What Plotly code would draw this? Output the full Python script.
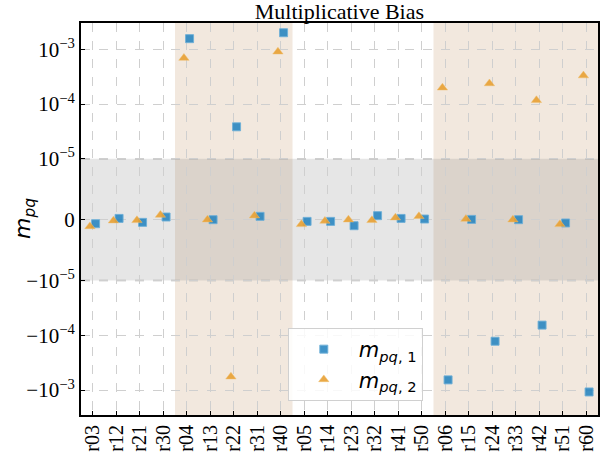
import numpy as np
import plotly.graph_objects as go

labels = ["r03", "r12", "r21", "r30", "r04", "r13", "r22", "r31", "r40", "r05", "r14",
          "r23", "r32", "r41", "r50", "r06", "r15", "r24", "r33", "r42", "r51", "r60"]
m_pq1 = [-6.6e-7, 2.1e-7, -4.4e-7, 4.4e-7, 1.56e-3, 0.0, 3.84e-5, 5.5e-7, 2.0e-3,
         -2.8e-7, -2.8e-7, -9.9e-7, 6.6e-7, 2.1e-7, 1.1e-7, -6.5e-4, 0.5e-7, -1.28e-4,
         0.0, -6.5e-5, -5.4e-7, -1.08e-3]
m_pq2 = [-1.1e-6, -1.6e-7, -1.1e-7, 7.7e-7, 6.9e-4, 0.0, -5.7e-4, 6.6e-7, 9.0e-4,
         -7.7e-7, -2.2e-7, 0.0, -1.0e-7, 3.3e-7, 5.5e-7, 1.98e-4, 1.0e-7, 2.37e-4,
         0.0, 1.17e-4, -7.7e-7, 3.3e-4]
ytick_values = [1e-3, 1e-4, 1e-5, 0.0, -1e-5, -1e-4, -1e-3]
ytick_text = ["10<sup>−3</sup>", "10<sup>−4</sup>", "10<sup>−5</sup>", "0",
              "−10<sup>−5</sup>", "−10<sup>−4</sup>", "−10<sup>−3</sup>"]
shaded_groups = [(3.5, 8.5), (14.5, 21.5)]

LINTHRESH = 1e-5
LINSCALE = 1.0 / (1.0 - 1.0 / 10.0)


def symlog(v):
    v = np.asarray(v, dtype=float)
    a = np.abs(v)
    big = np.sign(v) * (LINSCALE + np.log10(np.maximum(a, LINTHRESH) / LINTHRESH))
    return np.where(a <= LINTHRESH, v / LINTHRESH * LINSCALE, big)


idx = np.arange(len(labels))
serif = "Liberation Serif"

fig = go.Figure()
fig.add_trace(go.Scatter(
    x=idx + 0.12, y=symlog(m_pq1), mode="markers",
    name="<i>m</i><sub><i>pq</i>, 1</sub>",
    marker=dict(symbol="square", size=8, color="rgba(31,128,190,0.85)",
                line=dict(width=1, color="rgba(110,175,215,0.9)"))))
fig.add_trace(go.Scatter(
    x=idx - 0.12, y=symlog(m_pq2), mode="markers",
    name="<i>m</i><sub><i>pq</i>, 2</sub>",
    marker=dict(symbol="triangle-up", size=9, color="rgba(232,160,50,0.9)",
                line=dict(width=0.5, color="rgba(240,190,110,0.9)"))))

shapes = []
for x0, x1 in shaded_groups:
    shapes.append(dict(type="rect", xref="x", yref="paper", x0=x0, x1=x1, y0=0, y1=1,
                       fillcolor="#f2e8de", line=dict(width=0), layer="below"))
lo, hi = symlog([-LINTHRESH, LINTHRESH])
shapes.append(dict(type="rect", xref="paper", yref="y", x0=0, x1=1, y0=lo, y1=hi,
                   fillcolor="rgba(128,128,128,0.2)", line=dict(width=0), layer="below"))
for yv in (lo, hi):
    shapes.append(dict(type="line", xref="paper", yref="y", x0=0, x1=1, y0=yv, y1=yv,
                       line=dict(color="#b0b0b0", width=1.5, dash="dash"), layer="below"))

fig.update_layout(
    width=612, height=456,
    margin=dict(l=81, r=14, t=23, b=41, autoexpand=False),
    plot_bgcolor="white", paper_bgcolor="white",
    shapes=shapes,
    title=dict(text="Multiplicative Bias", x=0.5546, xanchor="center",
               y=1, yref="paper", yanchor="bottom", pad=dict(b=4),
               font=dict(family=serif, size=22, color="black")),
    legend=dict(x=0.40, y=0.222, xanchor="left", yanchor="top",
                bgcolor="rgba(255,255,255,0.85)", bordercolor="#d0d0d0", borderwidth=1,
                font=dict(family="DejaVu Sans", size=21, color="black"),
                itemwidth=60, tracegroupgap=0),
    showlegend=True,
    annotations=[dict(text="<i>m</i><sub><i>pq</i></sub>", xref="paper", yref="paper",
                      x=0, y=0.5, xanchor="center", yanchor="middle", xshift=-57,
                      textangle=-90, showarrow=False,
                      font=dict(family="DejaVu Sans", size=22, color="black"))],
)
fig.update_xaxes(
    range=[-0.5, len(labels) - 0.5],
    tickvals=idx, ticktext=labels, tickangle=-90,
    tickfont=dict(family=serif, size=20, color="black"),
    ticks="inside", ticklen=4, tickcolor="black",
    showline=True, linecolor="black", linewidth=2, mirror=True,
    showgrid=True, gridcolor="#cfcfcf", gridwidth=1, griddash="dash",
    zeroline=False, automargin=False,
)
fig.update_yaxes(
    range=[-3.565, 3.59],
    tickvals=symlog(ytick_values), ticktext=ytick_text,
    tickfont=dict(family=serif, size=21, color="black"),
    ticks="inside", ticklen=4, tickcolor="black",
    showline=True, linecolor="black", linewidth=2, mirror=True,
    showgrid=True, gridcolor="#cfcfcf", gridwidth=1, griddash="dash",
    zeroline=False, automargin=False,
)

fig.write_html("out.html")
